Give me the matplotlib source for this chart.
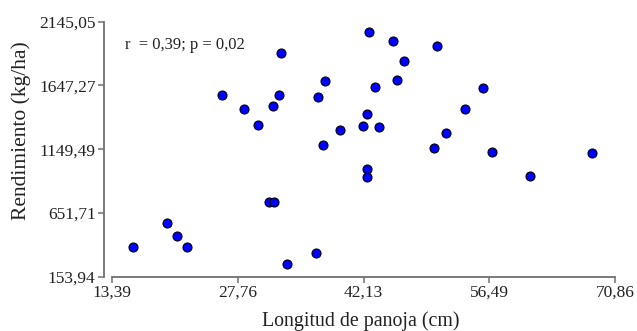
import matplotlib
matplotlib.use("Agg")
import matplotlib.pyplot as plt
from matplotlib.ticker import FixedLocator

longitud = [15.79, 19.67, 20.82, 21.96, 25.96, 28.47, 30.07, 31.79, 32.47, 32.70,
            31.33, 31.90, 33.39, 36.70, 36.93, 37.50, 37.73, 39.44, 42.07, 42.53,
            42.53, 42.53, 42.75, 43.44, 43.90, 45.50, 45.95, 46.75, 50.18, 50.52,
            51.55, 53.72, 55.78, 56.81, 61.15, 68.23]
rendimiento = [385.8, 573.2, 471.7, 385.8, 1572.6, 1463.3, 1338.4, 1486.7, 1572.6, 1900.5,
               737.2, 737.2, 253.1, 339.0, 1557.0, 1182.2, 1681.9, 1299.4, 1330.6, 1424.3,
               994.9, 932.4, 2064.5, 1635.1, 1322.8, 1994.2, 1689.7, 1838.1, 1158.8, 1955.2,
               1276.0, 1463.3, 1627.3, 1127.6, 940.2, 1119.7]

xticks = [13.39, 27.76, 42.13, 56.49, 70.86]
xtick_labels = ["13,39", "27,76", "42,13", "56,49", "70,86"]
yticks = [153.94, 651.71, 1149.49, 1647.27, 2145.05]
ytick_labels = ["153,94", "651,71", "1149,49", "1647,27", "2145,05"]
annotation = "r  = 0,39; p = 0,02"

plt.rcParams['font.family'] = ['Liberation Serif', 'DejaVu Serif']

W, H = 637, 331
fig = plt.figure(figsize=(W / 100, H / 100), dpi=100)
left, right = 112 / W, 615 / W
top, bottom = 1 - 21.7 / H, 1 - 276.7 / H
ax = fig.add_axes([left, bottom, right - left, top - bottom])

ax.scatter(longitud, rendimiento, s=42, c='#0000FF', edgecolors='black',
           linewidths=0.8, zorder=3, clip_on=False)

ax.set_xlim(xticks[0], xticks[-1])
ax.set_ylim(yticks[0], yticks[-1])
ax.xaxis.set_major_locator(FixedLocator(xticks))
ax.yaxis.set_major_locator(FixedLocator(yticks))
ax.set_xticklabels(xtick_labels)
ax.set_yticklabels(ytick_labels)

grey = '#707070'
for s in ['top', 'right']:
    ax.spines[s].set_visible(False)
for s in ['left', 'bottom']:
    ax.spines[s].set_color(grey)
    ax.spines[s].set_linewidth(1.3)
ax.spines['left'].set_position(('outward', 5.8))
ax.tick_params(axis='both', colors=grey, length=4, width=1.1, labelcolor='#222222',
               labelsize=12.5)
ax.tick_params(axis='y', pad=2)
ax.tick_params(axis='x', pad=2)

ax.set_xlabel("Longitud de panoja (cm)", fontsize=14.3, color='#222222')
ax.set_ylabel("Rendimiento (kg/ha)", fontsize=15.5, color='#222222')
ax.xaxis.set_label_coords(0.495, -0.135)
ax.yaxis.set_label_coords(-0.161, 0.573)

ax.text(125 / W, 1 - 45 / H, annotation, transform=fig.transFigure,
        fontsize=12, color='#222222', va='center', ha='left')

fig.savefig("out.png", dpi=100)
